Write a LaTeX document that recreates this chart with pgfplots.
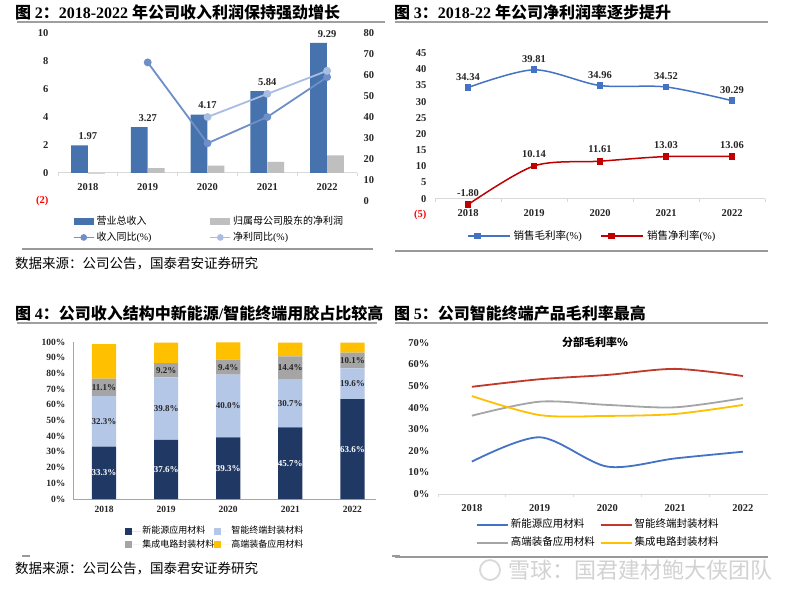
\documentclass[border=0pt]{standalone}
\usepackage{pgfplots}
\pgfplotsset{compat=1.18}
\usepackage{fontspec}
\setmainfont{Liberation Serif}
\newfontfamily\cjk{Noto Sans CJK SC}
\newcommand\fs[1]{\fontsize{#1}{#1}\selectfont}
\definecolor{barA}{HTML}{4672AD}
\definecolor{barB}{HTML}{BFBFBF}
\definecolor{lnA}{HTML}{6F8FC9}
\definecolor{lnB}{HTML}{A9BDE2}
\definecolor{axg}{HTML}{D9D9D9}
\definecolor{blu}{HTML}{4472C4}
\definecolor{red2}{HTML}{C00000}
\definecolor{navy}{HTML}{203864}
\definecolor{lblue}{HTML}{B4C7E7}
\definecolor{gry}{HTML}{A5A5A5}
\definecolor{yel}{HTML}{FFC000}
\definecolor{red4}{HTML}{C0392B}
\definecolor{txt}{HTML}{262626}
\pgfkeys{/pgf/number format/assume math mode=true}
\pgfplotsset{
  midnodes/.style={every node near coord/.append style={anchor=center}},
  sqleg/.style={legend image code/.code={\fill[##1] (0pt,-3.5pt) rectangle (7pt,3.5pt); \path (0pt,0pt) -- (15pt,0pt);}},
  rectleg/.style={legend image code/.code={\fill[##1] (0pt,-3.5pt) rectangle (20pt,3.5pt);}},
  lineleg/.style={legend image code/.code={\draw[mark repeat=2,mark phase=2,##1] plot coordinates {(0pt,0pt) (10pt,0pt) (20pt,0pt)};}},
  linelegB/.style={legend image code/.code={\draw[mark repeat=2,mark phase=2,##1] plot coordinates {(0pt,0pt) (10pt,0pt) (20pt,0pt)}; \path (0pt,0pt) -- (42pt,0pt);}},
  linelegC/.style={legend image code/.code={\draw[##1] (0pt,0pt) -- (21pt,0pt); \path (0pt,0pt) -- (31pt,0pt);}},
}
\begin{document}
\begin{tikzpicture}[x=1pt,y=1pt]
\useasboundingbox (0,0) rectangle (800,595);
\fill[white] (0,0) rectangle (800,595);
% ---------- titles and rules
\node[anchor=west, inner sep=0pt] at (15,583) {\fs{16}{\cjk\bfseries 图 }{\bfseries 2}{\cjk\bfseries ：}{\bfseries 2018-2022 }{\cjk\bfseries 年公司收入利润保持强劲增长}};
\node[anchor=west, inner sep=0pt] at (394,583) {\fs{16}{\cjk\bfseries 图 }{\bfseries 3}{\cjk\bfseries ：}{\bfseries 2018-22 }{\cjk\bfseries 年公司净利润率逐步提升}};
\node[anchor=west, inner sep=0pt] at (15,282) {\fs{16}{\cjk\bfseries 图 }{\bfseries 4}{\cjk\bfseries ：公司收入结构中新能源}{\bfseries /}{\cjk\bfseries 智能终端用胶占比较高}};
\node[anchor=west, inner sep=0pt] at (394,282) {\fs{16}{\cjk\bfseries 图 }{\bfseries 5}{\cjk\bfseries ：公司智能终端产品毛利率最高}};
\draw[gray!75, line width=1.3pt] (17,573) -- (385,573);
\draw[gray!75, line width=1.3pt] (395,573) -- (768,573);
\draw[gray!75, line width=1.3pt] (17,272) -- (377,272);
\draw[gray!75, line width=1.3pt] (395,272) -- (768,272);
\draw[gray!80, line width=1.3pt] (22,346) -- (373,346);
\draw[gray!80, line width=1.3pt] (395,344) -- (768,344);
\draw[gray!80, line width=1.3pt] (22,39) -- (30,39);
\draw[gray!80, line width=1.3pt] (392,39) -- (400,39);
\draw[gray!80, line width=1.3pt] (395,38) -- (768,38);
\node[anchor=west, inner sep=0pt] at (15,331) {\cjk\fs{13.5}数据来源：公司公告，国泰君安证券研究};
\node[anchor=west, inner sep=0pt] at (15,26) {\cjk\fs{13.5}数据来源：公司公告，国泰君安证券研究};
\draw[gray!30, line width=1.8pt] (490,25) circle (10);
\node[anchor=west, inner sep=0pt, text=gray!35] at (508,25) {\cjk\fs{22}雪球：国君建材鲍大侠团队};

% ---------- chart 1 (bars, left axis)
\begin{axis}[
  at={(58pt,394pt)}, anchor=south west, scale only axis, width=299pt, height=168pt,
  xmin=-0.5, xmax=4.5, ymin=-2, ymax=10,
  axis x line*=middle, axis y line*=left,
  y axis line style={draw=none}, x axis line style={draw=axg, line width=1pt, -},
  hide obscured x ticks=false, hide obscured y ticks=false,
  xtick={0,1,2,3,4}, xticklabels={2018,2019,2020,2021,2022},
  minor xtick={-0.5,0.5,1.5,2.5,3.5,4.5},
  major tick length=0pt, minor tick length=3pt, tick align=outside,
  minor tick style={draw=axg, line width=0.8pt},
  ytick={-2,0,2,4,6,8,10}, yticklabels={\textcolor{red}{(2)},0,2,4,6,8,10},
  tick label style={font=\fs{10.5}\bfseries, text=txt},
  xticklabel style={yshift=-7pt},
  yticklabel style={xshift=-6pt},
  clip=false,
]
\addplot[ybar, bar width=0.28, bar shift=-0.142, fill=barA, draw=none,
  nodes near coords={\pgfmathprintnumber[fixed,fixed zerofill,precision=2]{\pgfplotspointmeta}},
  every node near coord/.append style={font=\fs{10.5}\bfseries, text=txt, yshift=2pt}]
  coordinates {(0,1.97) (1,3.27) (2,4.17) (3,5.84) (4,9.29)};
\addplot[ybar, bar width=0.28, bar shift=0.142, fill=barB, draw=none]
  coordinates {(0,-0.04) (1,0.35) (2,0.52) (3,0.79) (4,1.25)};
\end{axis}
% ---------- chart 1 (lines, right axis)
\begin{axis}[
  at={(58pt,394pt)}, anchor=south west, scale only axis, width=299pt, height=168pt,
  xmin=-0.5, xmax=4.5, ymin=0, ymax=80,
  hide x axis, axis y line*=right, y axis line style={draw=none},
  ytick={0,10,...,80}, major tick length=0pt,
  tick label style={font=\fs{10.5}\bfseries, text=txt},
  yticklabel style={xshift=3pt},
  clip=false,
  legend columns=2, legend cell align=left,
  legend style={draw=none, fill=none, at={(axis description cs:0.05,-0.089)}, anchor=north west,
    inner sep=0pt, outer sep=0pt, font=\cjk\fs{10}, row sep=5pt, column sep=0pt,
    nodes={inner xsep=2pt, inner ysep=1pt, text width=111pt, align=left, text height=7.5pt, text depth=1.5pt}},
]
\addlegendimage{fill=barA, draw=none, rectleg}
\addlegendentry{营业总收入}
\addlegendimage{fill=barB, draw=none, rectleg}
\addlegendentry{归属母公司股东的净利润}
\addlegendimage{lnA, line width=1.6pt, mark=*, mark size=2.5pt, lineleg}
\addlegendentry{收入同比{\rmfamily(\%)}}
\addlegendimage{lnB, line width=1.6pt, mark=*, mark size=2.5pt, lineleg}
\addlegendentry{净利同比{\rmfamily(\%)}}
\addplot[color=lnA, line width=1.8pt, mark=*, mark size=3pt, forget plot]
  coordinates {(1,66) (2,27.5) (3,40) (4,59)};
\addplot[color=lnB, line width=1.8pt, mark=*, mark size=3pt, forget plot]
  coordinates {(2,40) (3,51) (4,62)};
\end{axis}

% ---------- chart 2
\begin{axis}[
  at={(435pt,380pt)}, anchor=south west, scale only axis, width=330pt, height=162pt,
  xmin=-0.5, xmax=4.5, ymin=-5, ymax=45,
  axis x line*=middle, axis y line*=left,
  y axis line style={draw=none}, x axis line style={draw=axg, line width=1pt, -},
  hide obscured x ticks=false, hide obscured y ticks=false,
  xtick={0,1,2,3,4}, xticklabels={2018,2019,2020,2021,2022},
  minor xtick={-0.5,0.5,1.5,2.5,3.5,4.5},
  major tick length=0pt, minor tick length=3pt, tick align=outside,
  minor tick style={draw=axg, line width=0.8pt},
  ytick={-5,0,5,10,15,20,25,30,35,40,45},
  yticklabels={\textcolor{red}{(5)},0,5,10,15,20,25,30,35,40,45},
  tick label style={font=\fs{10.5}\bfseries, text=txt},
  xticklabel style={yshift=-7pt},
  yticklabel style={xshift=-5pt},
  clip=false,
  legend columns=2, legend cell align=left,
  legend style={draw=none, fill=none, at={(axis description cs:0.097,-0.093)}, anchor=north west,
    inner sep=0pt, outer sep=0pt, font=\cjk\fs{10.5}, column sep=0pt,
    nodes={inner xsep=3pt, inner ysep=1pt, text width=84pt, align=left, text height=8pt, text depth=2pt}},
  nodes near coords align={above},
]
\addplot[smooth, color=blu, line width=1.5pt, mark=square*, mark size=2.6pt, linelegB,
  nodes near coords={\pgfmathprintnumber[fixed,fixed zerofill,precision=2]{\pgfplotspointmeta}},
  every node near coord/.append style={font=\fs{10.5}\bfseries, text=txt, yshift=3pt}]
  coordinates {(0,34.34) (1,39.81) (2,34.96) (3,34.52) (4,30.29)};
\addlegendentry{销售毛利率{\rmfamily(\%)}}
\addplot[smooth, color=red2, line width=1.5pt, mark=square*, mark size=2.6pt, linelegB,
  nodes near coords={\pgfmathprintnumber[fixed,fixed zerofill,precision=2]{\pgfplotspointmeta}},
  every node near coord/.append style={font=\fs{10.5}\bfseries, text=txt, yshift=4pt}]
  coordinates {(0,-1.80) (1,10.14) (2,11.61) (3,13.03) (4,13.06)};
\addlegendentry{销售净利率{\rmfamily(\%)}}
\end{axis}

% ---------- chart 3
\begin{axis}[
  at={(73pt,96pt)}, anchor=south west, scale only axis, width=303pt, height=157pt,
  xmin=-0.5, xmax=4.38, ymin=0, ymax=100,
  ybar stacked, bar width=0.39,
  axis x line*=bottom, axis y line*=left,
  axis line style={draw=gray!70, line width=1pt, -},
  xtick={0,1,2,3,4}, xticklabels={2018,2019,2020,2021,2022},
  major tick length=0pt,
  ytick={0,10,...,100},
  yticklabels={0\%,10\%,20\%,30\%,40\%,50\%,60\%,70\%,80\%,90\%,100\%},
  tick label style={font=\fs{9.5}\bfseries, text=txt},
  xticklabel style={yshift=-4pt},
  yticklabel style={xshift=-4pt},
  clip=false,
  legend columns=2, legend cell align=left,
  legend style={draw=none, fill=none, at={(axis description cs:0.173,-0.171)}, anchor=north west,
    inner sep=0pt, outer sep=0pt, font=\cjk\fs{9}, row sep=3pt, column sep=0pt,
    nodes={inner xsep=2pt, inner ysep=1pt, text width=70pt, align=left, text height=7pt, text depth=1.5pt}},
]
\addplot[fill=navy, draw=none, sqleg, point meta=explicit,
  nodes near coords={\pgfmathprintnumber[fixed,fixed zerofill,precision=1]{\pgfplotspointmeta}\%},
  midnodes, every node near coord/.append style={font=\fs{9}\bfseries, text=white}]
  coordinates {(0,33.3) [33.3] (1,37.6) [37.6] (2,39.3) [39.3] (3,45.7) [45.7] (4,63.6) [63.6]};
\addlegendentry{新能源应用材料}
\addplot[fill=lblue, draw=none, sqleg, point meta=explicit,
  nodes near coords={\pgfmathprintnumber[fixed,fixed zerofill,precision=1]{\pgfplotspointmeta}\%},
  midnodes, every node near coord/.append style={font=\fs{9}\bfseries, text=txt}]
  coordinates {(0,32.3) [32.3] (1,39.8) [39.8] (2,40.0) [40.0] (3,30.7) [30.7] (4,19.6) [19.6]};
\addlegendentry{智能终端封装材料}
\addplot[fill=gry, draw=none, sqleg, point meta=explicit,
  nodes near coords={\pgfmathprintnumber[fixed,fixed zerofill,precision=1]{\pgfplotspointmeta}\%},
  midnodes, every node near coord/.append style={font=\fs{9}\bfseries, text=txt}]
  coordinates {(0,11.1) [11.1] (1,9.2) [9.2] (2,9.4) [9.4] (3,14.4) [14.4] (4,10.1) [10.1]};
\addlegendentry{集成电路封装材料}
\addplot[fill=yel, draw=none, sqleg]
  coordinates {(0,22.0) (1,13.0) (2,11.1) (3,8.8) (4,6.3)};
\addlegendentry{高端装备应用材料}
\end{axis}

% ---------- chart 4
\begin{axis}[
  at={(438pt,101pt)}, anchor=south west, scale only axis, width=330pt, height=151pt,
  xmin=-0.5, xmax=4.37, ymin=0, ymax=70,
  axis x line*=bottom, axis y line*=left,
  y axis line style={draw=none}, x axis line style={draw=axg, line width=1pt, -},
  xtick={0,1,2,3,4}, xticklabels={2018,2019,2020,2021,2022},
  minor xtick={-0.5,0.5,1.5,2.5,3.5},
  major tick length=0pt, minor tick length=3pt, tick align=outside,
  minor tick style={draw=axg, line width=0.8pt},
  ytick={0,10,...,70},
  yticklabels={0\%,10\%,20\%,30\%,40\%,50\%,60\%,70\%},
  tick label style={font=\fs{10.5}\bfseries, text=txt},
  xticklabel style={yshift=-7pt},
  yticklabel style={xshift=-5pt},
  title={\cjk\bfseries\fs{11}分部毛利率\%},
  title style={at={(axis description cs:0.476,1)}, anchor=center, yshift=-5pt},
  clip=false,
  legend columns=2, legend cell align=left,
  legend style={draw=none, fill=none, at={(axis description cs:0.115,-0.165)}, anchor=north west,
    inner sep=0pt, outer sep=0pt, font=\cjk\fs{10.5}, row sep=6pt, column sep=0pt,
    nodes={inner xsep=2pt, inner ysep=1pt, text width=87pt, align=left, text height=8pt, text depth=2pt}},
]
\addplot[smooth, color=blu, line width=1.8pt, linelegC] coordinates {(0,15.0) (1,26.3) (2,12.7) (3,16.5) (4,19.6)};
\addlegendentry{新能源应用材料}
\addplot[smooth, color=red4, line width=1.8pt, linelegC] coordinates {(0,49.7) (1,53.2) (2,55.2) (3,58.0) (4,54.7)};
\addlegendentry{智能终端封装材料}
\addplot[smooth, color=gry, line width=1.8pt, linelegC] coordinates {(0,36.3) (1,42.8) (2,41.3) (3,40.2) (4,44.4)};
\addlegendentry{高端装备应用材料}
\addplot[smooth, color=yel, line width=1.8pt, linelegC] coordinates {(0,45.4) (1,36.6) (2,36.2) (3,37.1) (4,41.3)};
\addlegendentry{集成电路封装材料}
\end{axis}
\end{tikzpicture}
\end{document}
